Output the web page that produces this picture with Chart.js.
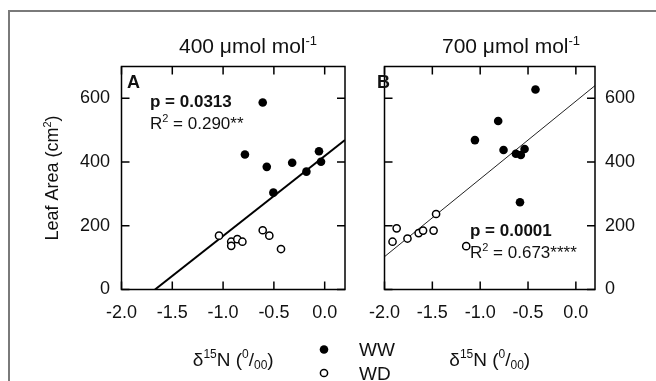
<!DOCTYPE html>
<html lang="en">
<head>
<meta charset="UTF-8">
<title>Leaf area vs δ15N</title>
<script src="https://cdn.jsdelivr.net/npm/chart.js"></script>
<style>
  html, body { margin: 0; width: 656px; height: 381px; overflow: hidden; background: #fff; }
  .frame { position: absolute; left: 8px; top: 10px; width: 700px; height: 400px;
           border-left: 2px solid #7a7a7a; border-top: 2px solid #7a7a7a; }
  #chartA { position: absolute; left: 0; top: 0; }
  #chartB { position: absolute; left: 356px; top: 0; }
</style>
</head>
<body>
<div class="frame"></div>
<canvas id="chartA" width="400" height="381"></canvas>
<canvas id="chartB" width="300" height="381"></canvas>

<script>
// ticks
const xTicks = [-2.0, -1.5, -1.0, -0.5, 0.0];
const yTicks = [0, 200, 400, 600];

// panel A, 400 umol mol-1
const wwA_x = [-0.61, -0.785, -0.57, -0.32, -0.18, -0.056, -0.036, -0.505];
const wwA_y = [587, 424, 385, 398, 370, 434, 401, 304];
const wdA_x = [-1.04, -0.92, -0.86, -0.81, -0.92, -0.61, -0.545, -0.43];
const wdA_y = [169, 150, 158, 150, 137, 186, 169, 127];
const fitA_x = [-1.67, 0.2];
const fitA_y = [0, 469];

// panel B, 700 umol mol-1
const wwB_x = [-0.422, -0.812, -1.055, -0.756, -0.627, -0.575, -0.536, -0.584];
const wwB_y = [628, 529, 469, 438, 426, 422, 441, 274];
const wdB_x = [-1.873, -1.916, -1.76, -1.643, -1.597, -1.487, -1.461, -1.146];
const wdB_y = [192, 150, 160, 177, 185, 185, 237, 136];
const fitB_x = [-2.0, 0.2];
const fitB_y = [103, 640];

const FONT = "'Liberation Sans', Arial, sans-serif";
const INK = '#111';
Chart.defaults.font.family = FONT;
Chart.defaults.color = INK;

const pts = (xs, ys) => xs.map((x, i) => ({ x: x, y: ys[i] }));

// text with super/subscripts: parts = [[text, 'sup'|'sub'|undefined], ...]
function richText(ctx, parts, x, y, size, align, bold) {
  const fontFor = k => (bold ? 'bold ' : '') + (k ? Math.round(size * 0.62) : size) + 'px ' + FONT;
  let total = 0;
  parts.forEach(([t, k]) => { ctx.font = fontFor(k); total += ctx.measureText(t).width; });
  let cx = align === 'center' ? x - total / 2 : (align === 'right' ? x - total : x);
  ctx.textAlign = 'left';
  ctx.textBaseline = 'alphabetic';
  ctx.fillStyle = INK;
  parts.forEach(([t, k]) => {
    ctx.font = fontFor(k);
    const dy = k === 'sup' ? -size * 0.4 : (k === 'sub' ? size * 0.18 : 0);
    ctx.fillText(t, cx, y + dy);
    cx += ctx.measureText(t).width;
  });
}

const xTitle = [['δ'], ['15', 'sup'], ['N ('], ['0', 'sup'], ['/'], ['00', 'sub'], [')']];

// box with inward ticks on all four sides
const boxPlugin = {
  id: 'box',
  afterDatasetsDraw(chart) {
    const { ctx, chartArea: a, scales: { x, y } } = chart;
    ctx.save();
    ctx.strokeStyle = '#000';
    ctx.lineWidth = 1.5;
    ctx.strokeRect(a.left, a.top, a.right - a.left, a.bottom - a.top);
    ctx.beginPath();
    xTicks.forEach(v => {
      const px = x.getPixelForValue(v);
      ctx.moveTo(px, a.bottom); ctx.lineTo(px, a.bottom - 8);
      ctx.moveTo(px, a.top); ctx.lineTo(px, a.top + 8);
    });
    yTicks.forEach(v => {
      const py = y.getPixelForValue(v);
      ctx.moveTo(a.left, py); ctx.lineTo(a.left + 8, py);
      ctx.moveTo(a.right, py); ctx.lineTo(a.right - 8, py);
    });
    ctx.stroke();
    ctx.restore();
  }
};

function makePanel(id, o) {
  return new Chart(document.getElementById(id), {
    type: 'scatter',
    data: {
      datasets: [
        { label: 'fit', type: 'line', showLine: true, data: pts(o.fitX, o.fitY),
          borderColor: o.fitColor, borderWidth: o.fitWidth, pointRadius: 0, fill: false, order: 3 },
        { label: 'WD', data: pts(o.wdX, o.wdY), pointRadius: 3.6, borderWidth: 1.5,
          borderColor: '#000', backgroundColor: '#fff', order: 2 },
        { label: 'WW', data: pts(o.wwX, o.wwY), pointRadius: 4.3, borderWidth: 0,
          backgroundColor: '#000', order: 1 }
      ]
    },
    options: {
      responsive: false,
      animation: false,
      events: [],
      layout: { padding: o.padding },
      plugins: { legend: { display: false }, tooltip: { enabled: false } },
      scales: {
        x: {
          type: 'linear', min: -2, max: 0.2,
          grid: { display: false, drawTicks: false }, border: { display: false },
          afterBuildTicks: s => { s.ticks = xTicks.map(v => ({ value: v })); },
          afterFit: s => { s.height = o.xHeight; },
          ticks: { padding: 13, font: { size: 18 }, callback: v => Number(v).toFixed(1) }
        },
        y: {
          type: 'linear', position: o.yPos, min: 0, max: 700,
          grid: { display: false, drawTicks: false }, border: { display: false },
          afterBuildTicks: s => { s.ticks = yTicks.map(v => ({ value: v })); },
          afterFit: s => { s.width = o.yWidth; },
          ticks: { padding: o.yPad, font: { size: 18 }, callback: v => String(v) }
        }
      }
    },
    plugins: [boxPlugin, { id: 'texts', afterDraw: c => o.texts(c.ctx, c) }]
  });
}

makePanel('chartA', {
  wwX: wwA_x, wwY: wwA_y, wdX: wdA_x, wdY: wdA_y, fitX: fitA_x, fitY: fitA_y,
  fitColor: '#000', fitWidth: 2,
  padding: { left: 0, top: 66.5, right: 55, bottom: 0 },
  xHeight: 91.5, yPos: 'left', yWidth: 121.5, yPad: 11.5,
  texts(ctx, c) {
    const a = c.chartArea;
    ctx.save();
    richText(ctx, [['400 μmol mol'], ['-1', 'sup']], 179, 53, 21, 'left');
    richText(ctx, [['A']], 127, 88, 18, 'left', true);
    richText(ctx, [['p = 0.0313']], 150, 107, 17, 'left', true);
    richText(ctx, [['R'], ['2', 'sup'], [' = 0.290**']], 150, 129, 17, 'left');
    richText(ctx, xTitle, (a.left + a.right) / 2, 366, 19, 'center');
    // y axis title
    ctx.translate(58, (a.top + a.bottom) / 2);
    ctx.rotate(-Math.PI / 2);
    richText(ctx, [['Leaf Area (cm'], ['2', 'sup'], [')']], 0, 0, 18, 'center');
    ctx.restore();
    // legend
    ctx.save();
    ctx.fillStyle = '#000';
    ctx.beginPath(); ctx.arc(324, 349.5, 4.3, 0, Math.PI * 2); ctx.fill();
    ctx.strokeStyle = '#000'; ctx.lineWidth = 1.5; ctx.fillStyle = '#fff';
    ctx.beginPath(); ctx.arc(324, 373, 3.6, 0, Math.PI * 2); ctx.fill(); ctx.stroke();
    richText(ctx, [['WW']], 359, 356, 19, 'left');
    richText(ctx, [['WD']], 359, 380, 19, 'left');
    ctx.restore();
  }
});

makePanel('chartB', {
  wwX: wwB_x, wwY: wwB_y, wdX: wdB_x, wdY: wdB_y, fitX: fitB_x, fitY: fitB_y,
  fitColor: '#222', fitWidth: 1,
  padding: { left: 16.5, top: 66.5, right: 0, bottom: 0 },
  xHeight: 91.5, yPos: 'right', yWidth: 61, yPad: 10,
  texts(ctx, c) {
    const a = c.chartArea;
    ctx.save();
    richText(ctx, [['700 μmol mol'], ['-1', 'sup']], 86, 53, 21, 'left');
    richText(ctx, [['B']], 21, 88, 18, 'left', true);
    richText(ctx, [['p = 0.0001']], 114, 236, 17, 'left', true);
    richText(ctx, [['R'], ['2', 'sup'], [' = 0.673****']], 114, 258, 17, 'left');
    richText(ctx, xTitle, (a.left + a.right) / 2, 366, 19, 'center');
    ctx.restore();
  }
});
</script>
</body>
</html>
